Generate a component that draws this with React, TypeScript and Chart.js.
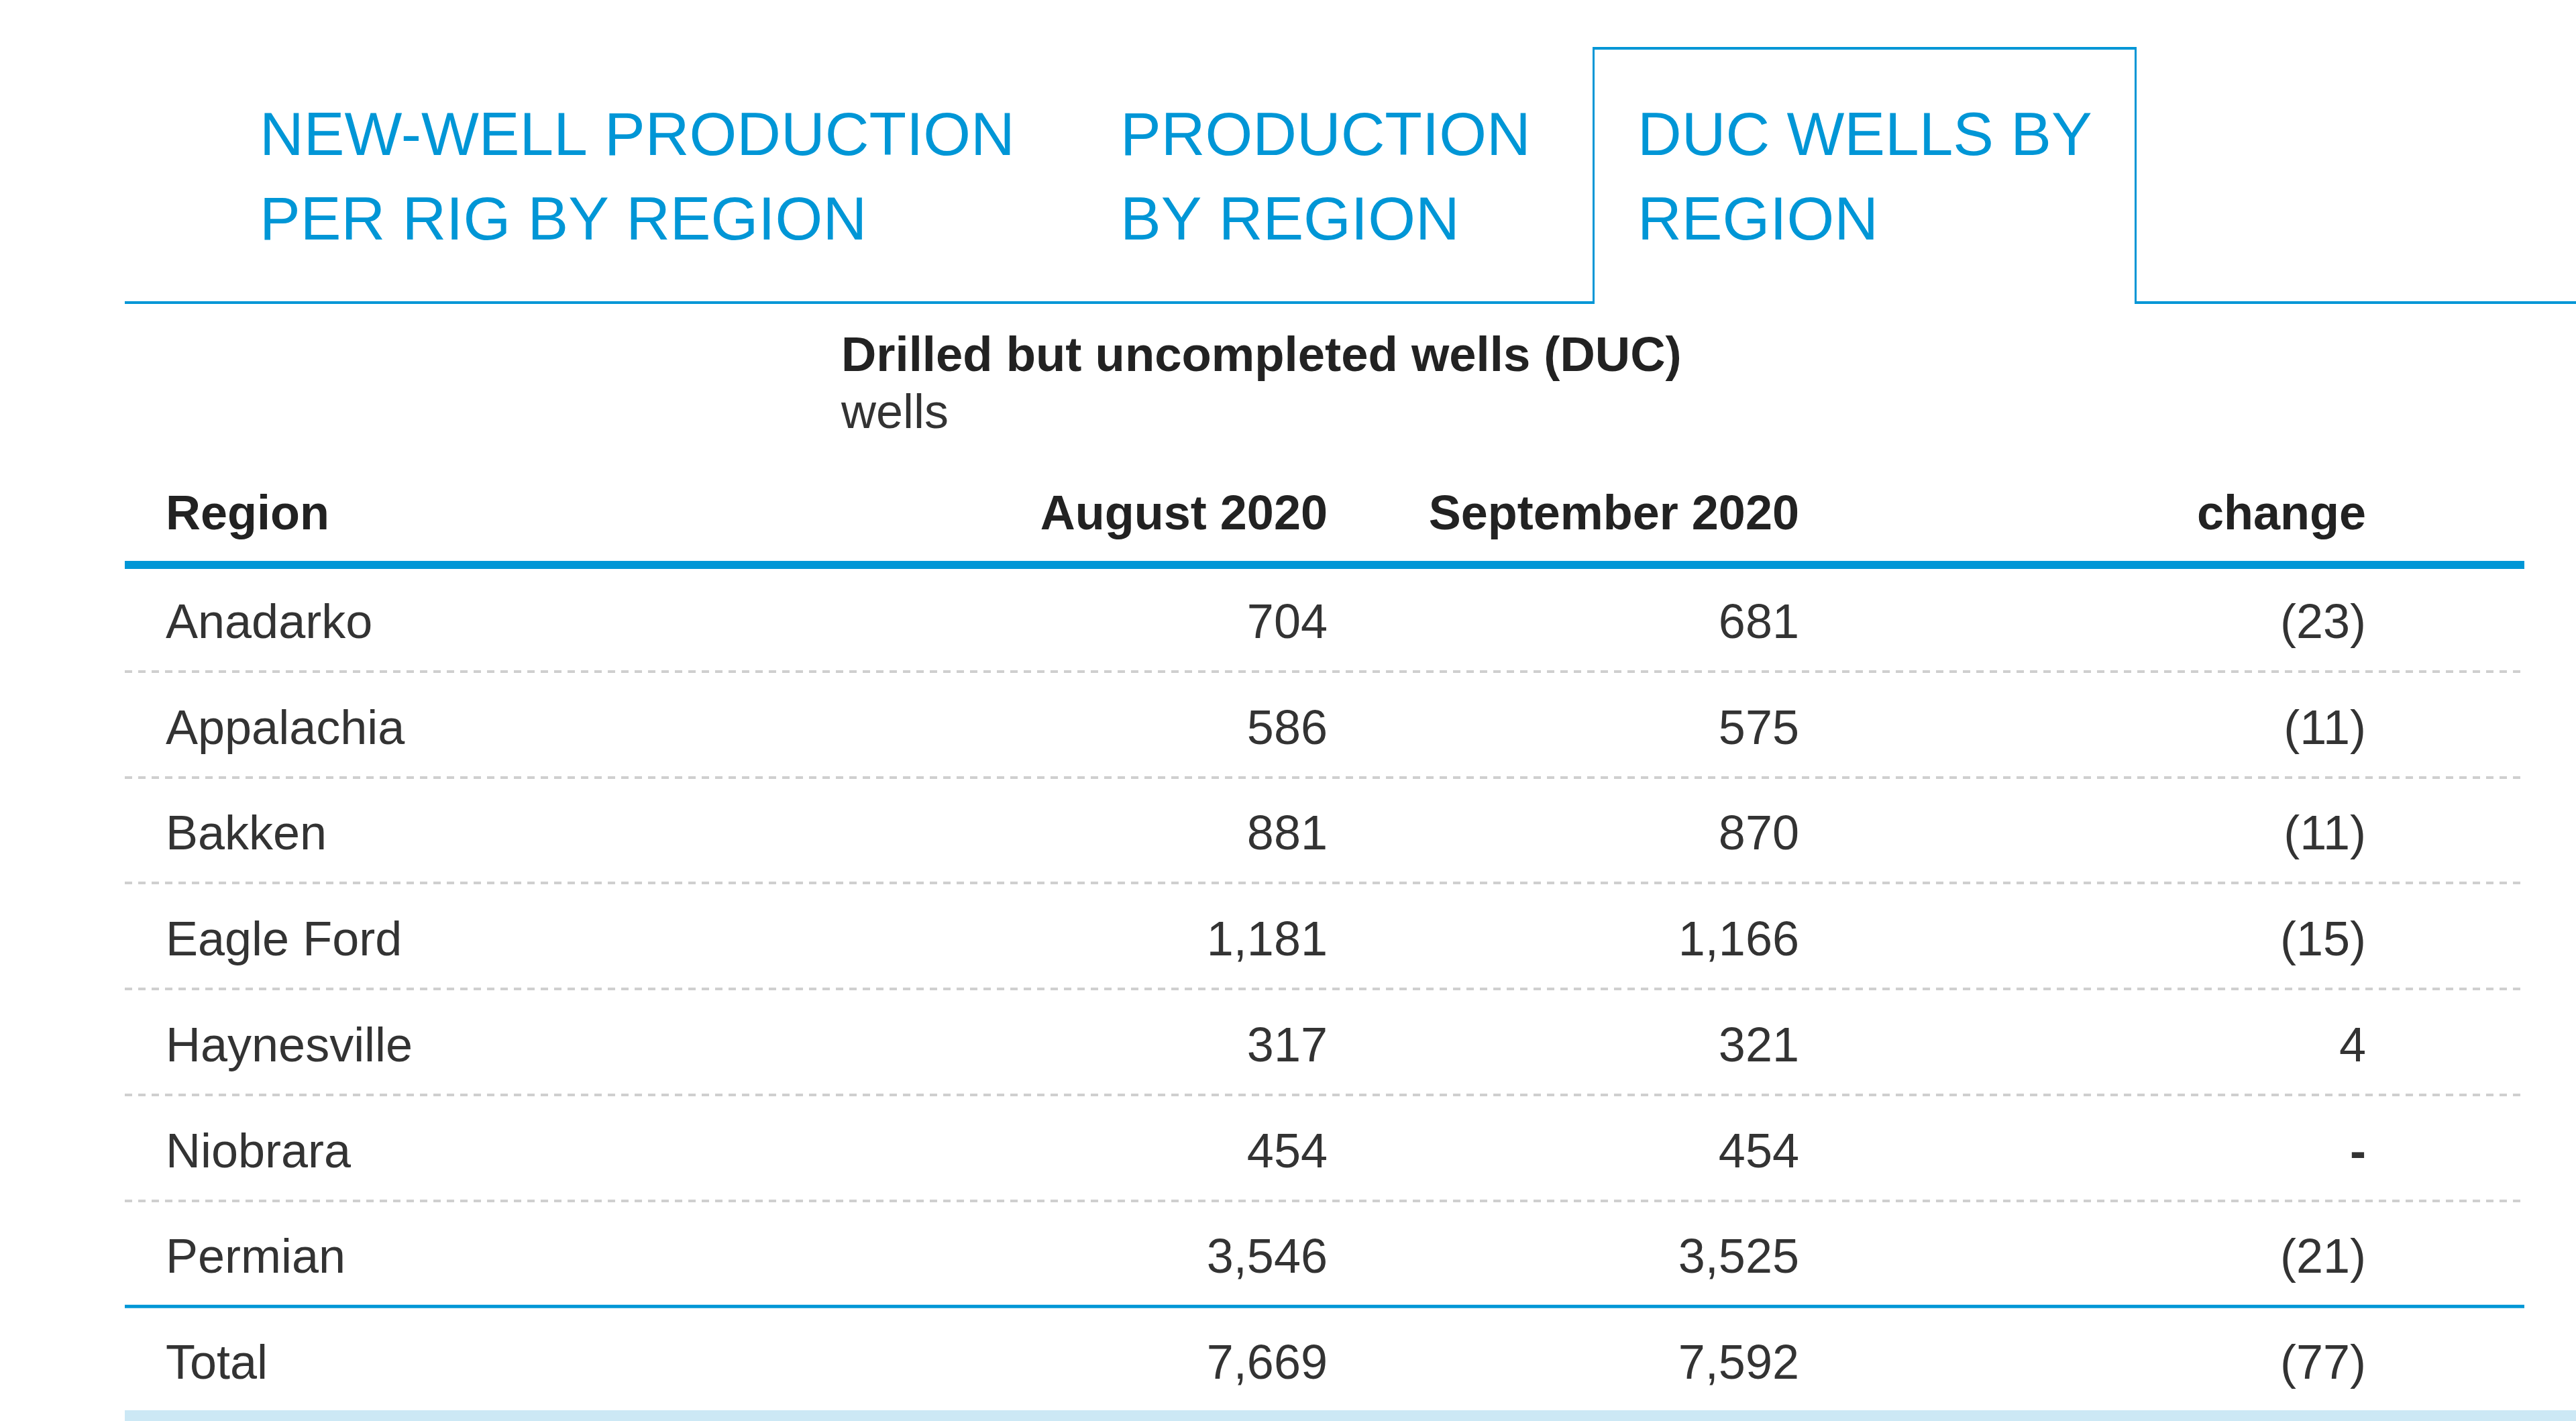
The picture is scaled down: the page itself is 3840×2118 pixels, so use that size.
import React, { useEffect, useRef } from "react";
import { Chart, registerables } from "chart.js";

Chart.register(...registerables);

// ---- data ----
const regions = ["Anadarko", "Appalachia", "Bakken", "Eagle Ford", "Haynesville", "Niobrara", "Permian", "Total"];
const august2020 = [704, 586, 881, 1181, 317, 454, 3546, 7669];
const september2020 = [681, 575, 870, 1166, 321, 454, 3525, 7592];
const change = [-23, -11, -11, -15, 4, 0, -21, -77];
const columnHeaders = ["Region", "August 2020", "September 2020", "change"];
const tabLabels = [
  ["NEW-WELL PRODUCTION", "PER RIG BY REGION"],
  ["PRODUCTION", "BY REGION"],
  ["DUC WELLS BY", "REGION"],
];
const chartTitle = "Drilled but uncompleted wells (DUC)";
const chartUnits = "wells";

const W = 3840;
const H = 2118;
const BLUE = "#0096d6";
const FONT = "'Liberation Sans', Arial, Helvetica, sans-serif";

const fmtNum = (v: number) => v.toLocaleString("en-US");
const fmtChange = (v: number) => (v === 0 ? "-" : v < 0 ? `(${Math.abs(v)})` : `${v}`);

const tablePlugin = {
  id: "tablePlugin",
  afterDraw(chart: any) {
    const ctx: CanvasRenderingContext2D = chart.ctx;
    const area = chart.chartArea;
    const y = chart.scales.y;
    const left = area.left;
    const right = area.right;
    const colX = [left + 61, left + 1793, left + 2496, left + 3341];
    const aligns: CanvasTextAlign[] = ["left", "right", "right", "right"];

    ctx.save();
    ctx.textBaseline = "alphabetic";

    // ---- tabs ----
    const tabX = [387, 1670, 2441];
    ctx.fillStyle = BLUE;
    ctx.font = `91px ${FONT}`;
    ctx.textAlign = "left";
    tabLabels.forEach((lines, i) => {
      lines.forEach((ln, j) => ctx.fillText(ln, tabX[i], 231 + j * 126));
    });
    ctx.strokeStyle = BLUE;
    ctx.lineCap = "butt";
    ctx.lineWidth = 4;
    ctx.beginPath();
    ctx.moveTo(left, 451);
    ctx.lineTo(2376, 451);
    ctx.moveTo(3183, 451);
    ctx.lineTo(W, 451);
    ctx.stroke();
    ctx.lineWidth = 4;
    ctx.beginPath();
    ctx.moveTo(2374, 72);
    ctx.lineTo(3185, 72);
    ctx.stroke();
    ctx.lineWidth = 3;
    ctx.beginPath();
    ctx.moveTo(2375.5, 70);
    ctx.lineTo(2375.5, 453);
    ctx.moveTo(3183.5, 70);
    ctx.lineTo(3183.5, 453);
    ctx.stroke();

    // ---- title ----
    ctx.fillStyle = "#222";
    ctx.font = `bold 72.5px ${FONT}`;
    ctx.fillText(chartTitle, 1254, 553);
    ctx.fillStyle = "#333";
    ctx.font = `72px ${FONT}`;
    ctx.fillText(chartUnits, 1254, 638);

    // ---- header ----
    ctx.fillStyle = "#222";
    ctx.font = `bold 72px ${FONT}`;
    columnHeaders.forEach((h, c) => {
      ctx.textAlign = aligns[c];
      ctx.fillText(h, colX[c], 789);
    });
    ctx.fillStyle = BLUE;
    ctx.fillRect(left, area.top - 7, right - left, 12);

    // ---- rows ----
    const pitch = y.getPixelForValue(1) - y.getPixelForValue(0);
    ctx.fillStyle = "#333";
    ctx.font = `72px ${FONT}`;
    regions.forEach((r, i) => {
      const cy = y.getPixelForValue(i);
      const base = cy + 29;
      const cells = [r, fmtNum(august2020[i]), fmtNum(september2020[i]), fmtChange(change[i])];
      cells.forEach((t, c) => {
        ctx.textAlign = aligns[c];
        ctx.font = c === 3 && change[i] === 0 ? `bold 72px ${FONT}` : `72px ${FONT}`;
        ctx.fillText(t, colX[c], base);
      });
      const by = cy + pitch / 2;
      if (i < regions.length - 2) {
        ctx.strokeStyle = "#cfcfcf";
        ctx.lineWidth = 4;
        ctx.setLineDash([11, 9]);
        ctx.beginPath();
        ctx.moveTo(left, Math.round(by));
        ctx.lineTo(right, Math.round(by));
        ctx.stroke();
        ctx.setLineDash([]);
      } else if (i === regions.length - 2) {
        ctx.fillStyle = BLUE;
        ctx.fillRect(left, by - 2.5, right - left, 5);
        ctx.fillStyle = "#333";
      }
    });

    // bottom band
    ctx.fillStyle = "#cce8f5";
    ctx.fillRect(left, area.bottom - 3, W - left, H - area.bottom + 3);

    ctx.restore();
  },
};

export default function App() {
  const ref = useRef<HTMLCanvasElement | null>(null);

  useEffect(() => {
    if (!ref.current) return;
    const chart = new Chart(ref.current, {
      type: "bar",
      data: {
        labels: regions,
        datasets: [
          { label: columnHeaders[1], data: august2020, backgroundColor: "rgba(0,0,0,0)", borderWidth: 0 },
          { label: columnHeaders[2], data: september2020, backgroundColor: "rgba(0,0,0,0)", borderWidth: 0 },
          { label: columnHeaders[3], data: change, backgroundColor: "rgba(0,0,0,0)", borderWidth: 0 },
        ],
      },
      options: {
        indexAxis: "y",
        responsive: false,
        animation: false,
        devicePixelRatio: 1,
        layout: { padding: { top: 843, bottom: 13, left: 186, right: 77 } },
        plugins: { legend: { display: false }, title: { display: false }, tooltip: { enabled: false } },
        scales: {
          x: { display: false },
          y: { display: false, offset: true },
        },
        events: [],
      },
      plugins: [tablePlugin],
    });
    return () => chart.destroy();
  }, []);

  return (
    <div style={{ position: "absolute", left: 0, top: 0, width: W, height: H, background: "#fff" }}>
      <canvas ref={ref} width={W} height={H} style={{ display: "block", width: W, height: H }} />
    </div>
  );
}
